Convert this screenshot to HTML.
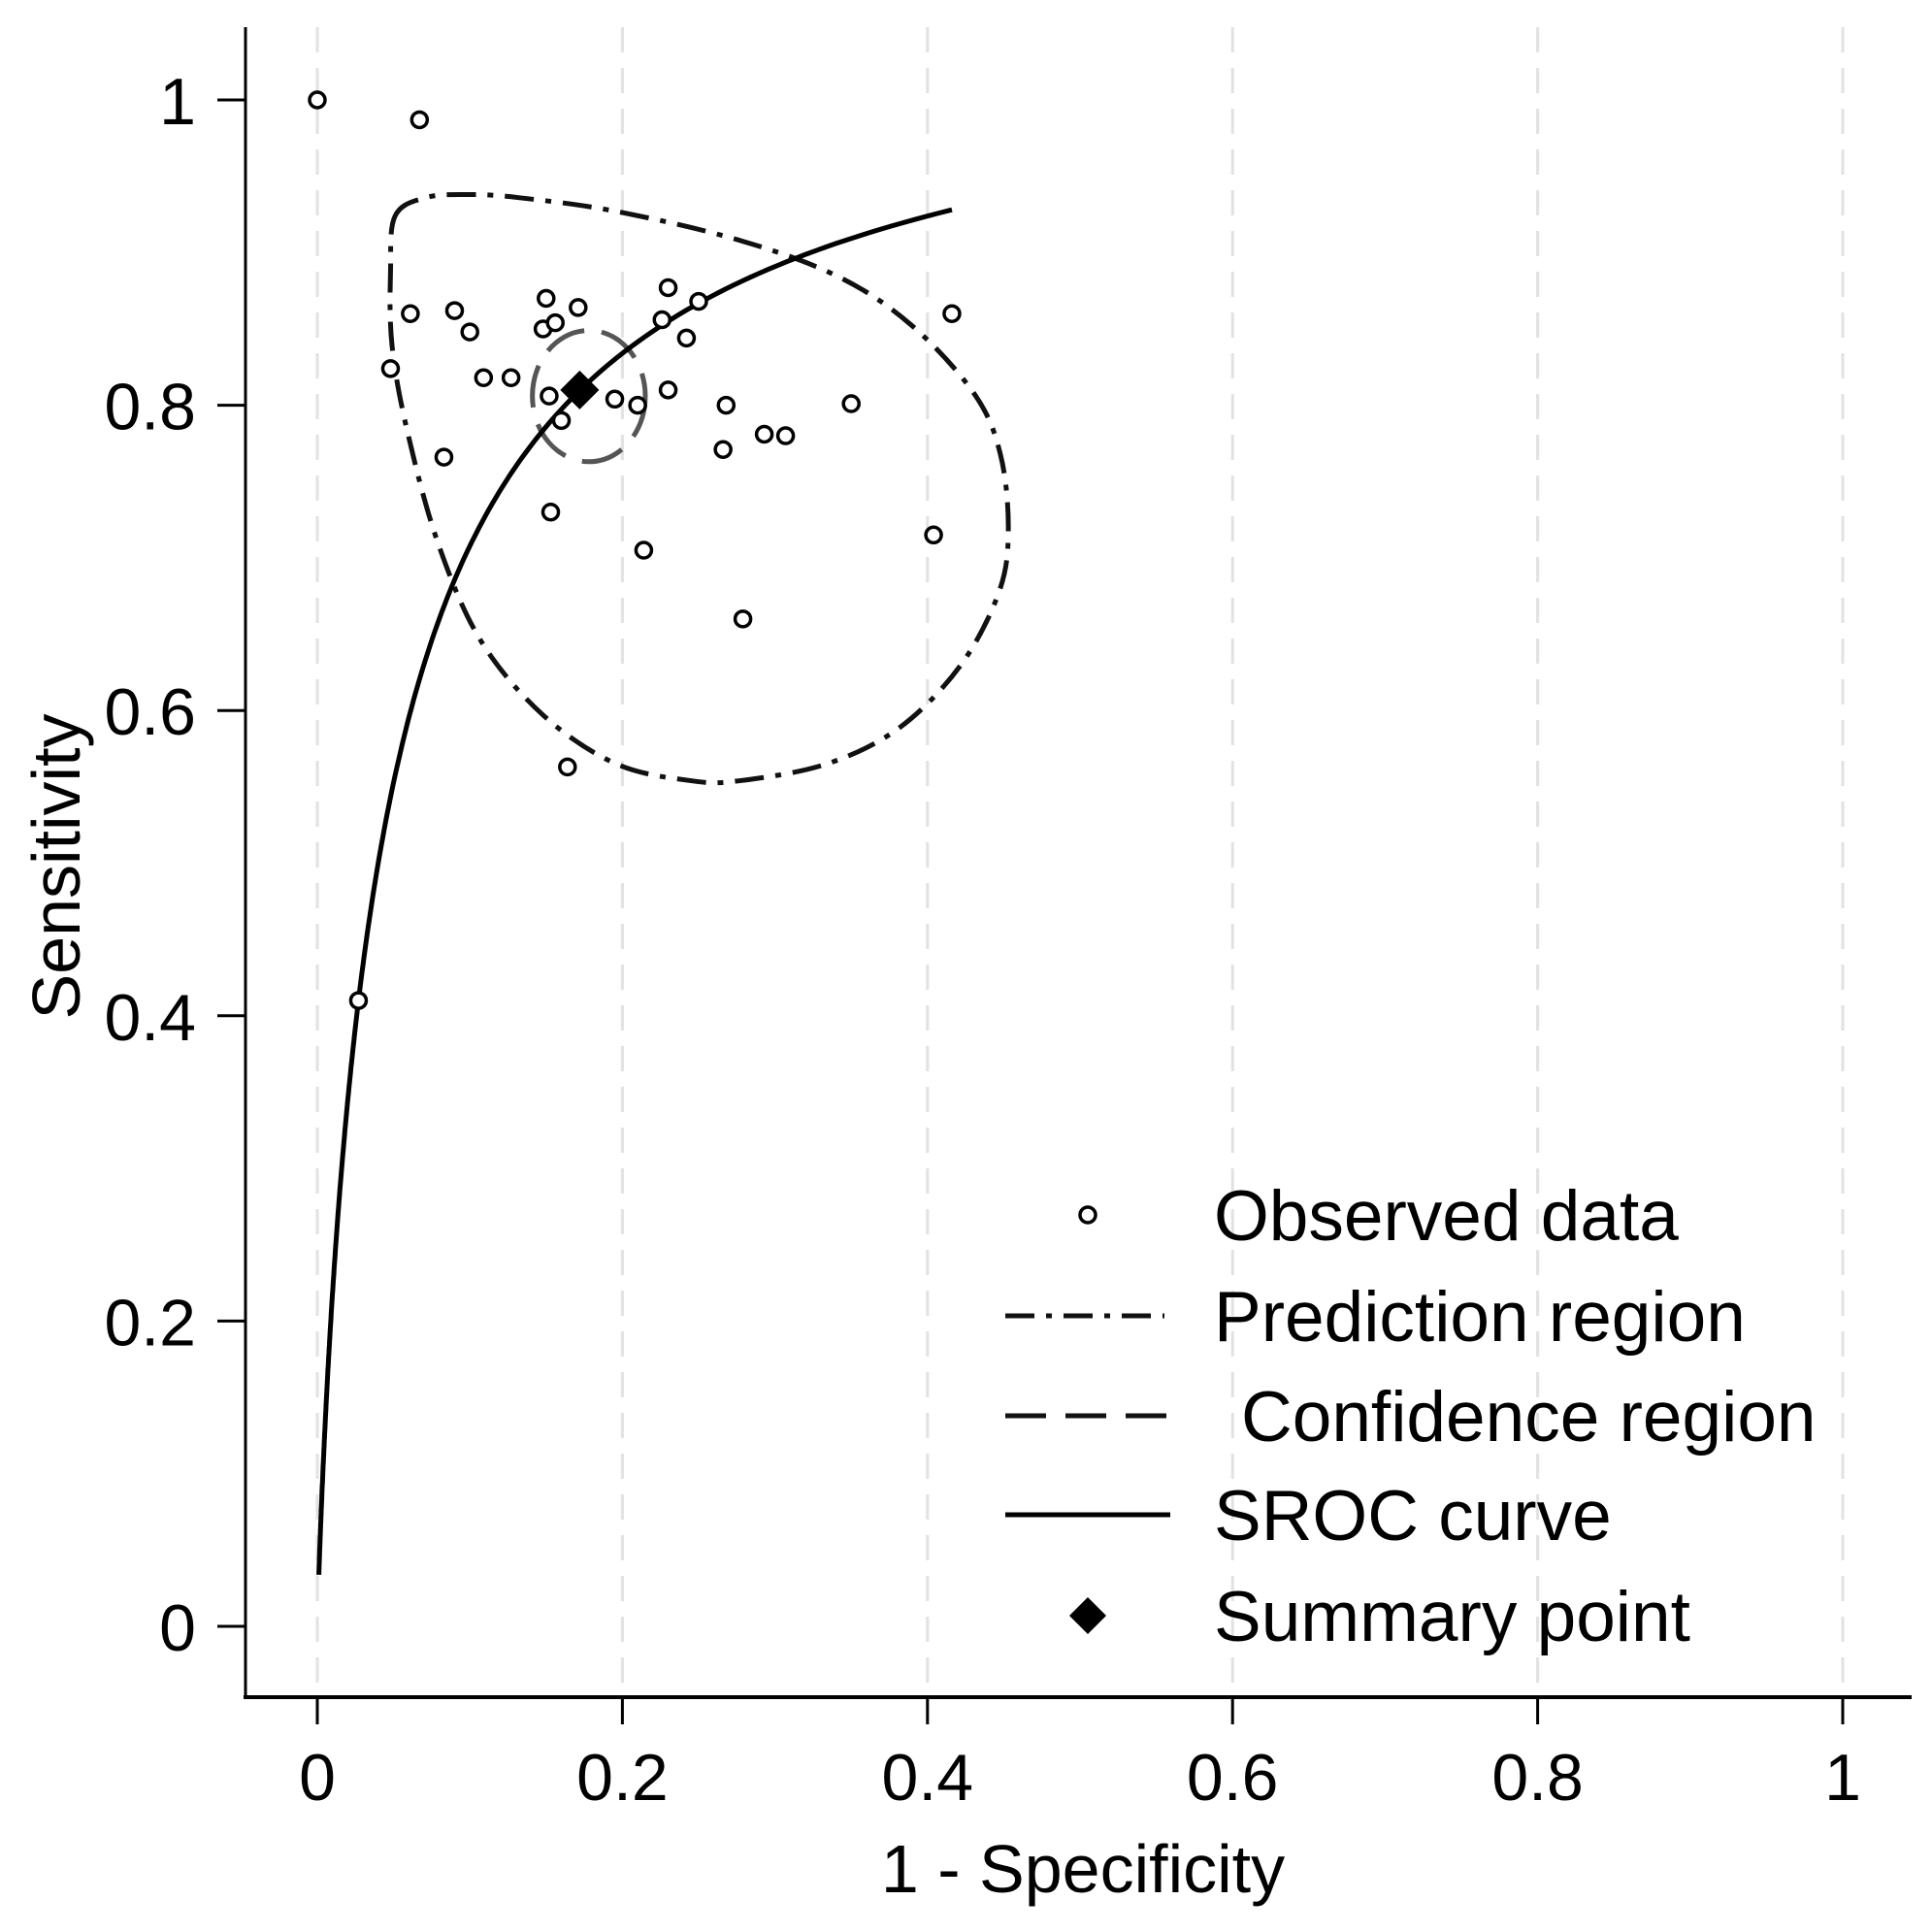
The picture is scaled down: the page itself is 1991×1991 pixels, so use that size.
<!DOCTYPE html>
<html><head><meta charset="utf-8"><style>
html,body{margin:0;padding:0;background:#fff;}
svg{display:block;font-family:"Liberation Sans",Arial,sans-serif;}
</style></head><body>
<svg id="chart" width="1991" height="1991" viewBox="0 0 1991 1991" xmlns="http://www.w3.org/2000/svg">
<g id="grid"></g>
<g id="axes"></g>
<g id="series"></g>
<g id="legend"></g>
</svg>
<script>
const xTicks = [0, 0.2, 0.4, 0.6, 0.8, 1];
const xTickLabels = ["0", "0.2", "0.4", "0.6", "0.8", "1"];
const yTicks = [0, 0.2, 0.4, 0.6, 0.8, 1];
const yTickLabels = ["0", "0.2", "0.4", "0.6", "0.8", "1"];
const obsFpr = [0,.067,.061,.090,.100,.048,.109,.127,.083,.150,.171,.148,.156,.152,.160,.153,.195,.210,.230,.250,.226,.242,.230,.268,.266,.293,.307,.214,.279,.164,.350,.404,.416,.027];
const obsSens = [1,.987,.860,.862,.848,.824,.818,.818,.766,.870,.864,.850,.854,.806,.790,.730,.804,.800,.877,.868,.856,.844,.810,.800,.771,.781,.780,.705,.660,.563,.801,.715,.860,.410];
const summaryPoint = [0.172, 0.810];
const srocParams = [2.862, 0.90]; // logit(sens) = a + b*logit(fpr)
const srocRange = [0.001, 0.416];
const confCenter = [0.178, 0.806];
const confRadii = [0.037, 0.043];
const predFpr = [.051,.071,.099,.132,.196,.277,.342,.390,.431,.448,.453,.447,.422,.382,.334,.277,.245,.196,.148,.107,.079,.059,.049,.048];
const predSens = [.924,.936,.938,.936,.927,.908,.884,.852,.807,.767,.718,.678,.630,.589,.565,.554,.554,.565,.597,.646,.710,.783,.839,.888];

const NS="http://www.w3.org/2000/svg";
const X0=327,X1=1899,Y0=1676,Y1=103;
const sx=v=>X0+(X1-X0)*v;
const sy=v=>Y0-(Y0-Y1)*v;
function mk(tag,attrs,parent){const e=document.createElementNS(NS,tag);for(const k in attrs)e.setAttribute(k,attrs[k]);parent.appendChild(e);return e;}
const grid=document.getElementById('grid'),axes=document.getElementById('axes'),series=document.getElementById('series'),legend=document.getElementById('legend');
const AXY=1749;
xTicks.forEach((t,i)=>{
  const g=mk('line',{x1:sx(t),x2:sx(t),y1:28,y2:AXY-2,stroke:'#e2e2e2','stroke-width':3,'stroke-dasharray':'26 16'},grid);
  
  
  const tk=mk('line',{x1:sx(t),x2:sx(t),y1:AXY,y2:AXY+28,stroke:'#000','stroke-width':3},axes);
  
  
  const tx=mk('text',{x:sx(t),y:1855,'text-anchor':'middle','font-size':68},axes);
  tx.textContent=xTickLabels[i];
  
  
});
yTicks.forEach((t,i)=>{
  const tk=mk('line',{x1:224,x2:253,y1:sy(t),y2:sy(t),stroke:'#000','stroke-width':3},axes);
  
  
  const tx=mk('text',{x:202,y:sy(t)+25,'text-anchor':'end','font-size':68},axes);
  tx.textContent=yTickLabels[i];
  
  
});
let a=mk('line',{x1:253,x2:253,y1:28,y2:AXY+2,stroke:'#000','stroke-width':3},axes);


a=mk('line',{x1:251,x2:1970,y1:AXY,y2:AXY,stroke:'#000','stroke-width':4},axes);


let t=mk('text',{x:1116,y:1950,'text-anchor':'middle','font-size':70},axes);
t.textContent='1 - Specificity';


t=mk('text',{x:0,y:0,'text-anchor':'middle','font-size':70,transform:'translate(82,893) rotate(-90)'},axes);
t.textContent='Sensitivity';



(function(){
  const P=predFpr.map((f,i)=>[sx(f),sy(predSens[i])]);const n=P.length;
  let d=`M${P[0][0]},${P[0][1]}`;
  for(let i=0;i<n;i++){const p0=P[(i-1+n)%n],p1=P[i],p2=P[(i+1)%n],p3=P[(i+2)%n];
    d+=` C${p1[0]+(p2[0]-p0[0])/6},${p1[1]+(p2[1]-p0[1])/6} ${p2[0]-(p3[0]-p1[0])/6},${p2[1]-(p3[1]-p1[1])/6} ${p2[0]},${p2[1]}`;}
  const p=mk('path',{d:d+'Z',fill:'none',stroke:'#111','stroke-width':5,'stroke-dasharray':'30 12 6 12'},series);
  
  
})();
a=mk('ellipse',{cx:sx(confCenter[0]),cy:sy(confCenter[1]),rx:(X1-X0)*confRadii[0],ry:(Y0-Y1)*confRadii[1],fill:'none',stroke:'#555','stroke-width':5,'stroke-dasharray':'44 18'},series);


(function(){
  const pts=[];const N=300;
  for(let i=0;i<=N;i++){const lf=Math.log(srocRange[0])+(Math.log(srocRange[1])-Math.log(srocRange[0]))*i/N;const f=Math.exp(lf);
    const L=srocParams[0]+srocParams[1]*Math.log(f/(1-f));const s=1/(1+Math.exp(-L));pts.push(sx(f).toFixed(1)+','+sy(s).toFixed(1));}
  const p=mk('polyline',{points:pts.join(' '),fill:'none',stroke:'#000','stroke-width':5},series);
  
  
})();
obsFpr.forEach((f,i)=>{
  const c=mk('circle',{cx:sx(f),cy:sy(obsSens[i]),r:8,fill:'#fff',stroke:'#000','stroke-width':3.5},series);
  
  
});
(function(){const cx=sx(summaryPoint[0]),cy=sy(summaryPoint[1]),r=20;
  const p=mk('polygon',{points:`${cx},${cy-r} ${cx+r},${cy} ${cx},${cy+r} ${cx-r},${cy}`,fill:'#000'},series);
  
  
})();

const LY=[1252,1356,1459,1561,1665];
const MX=1121;
let e=mk('circle',{cx:MX,cy:LY[0],r:8,fill:'#fff',stroke:'#000','stroke-width':3.5},legend);


e=mk('line',{x1:1036,x2:1200,y1:LY[1],y2:LY[1],stroke:'#111','stroke-width':5,'stroke-dasharray':'30 12 6 12'},legend);


e=mk('line',{x1:1036,x2:1206,y1:LY[2],y2:LY[2],stroke:'#111','stroke-width':5,'stroke-dasharray':'42 20'},legend);


e=mk('line',{x1:1036,x2:1206,y1:LY[3],y2:LY[3],stroke:'#000','stroke-width':5},legend);


e=mk('polygon',{points:`${MX},${LY[4]-19} ${MX+19},${LY[4]} ${MX},${LY[4]+19} ${MX-19},${LY[4]}`,fill:'#000'},legend);


const labels=['Observed data','Prediction region','Confidence region','SROC curve','Summary point'];
const names=['legend-observed-label','legend-prediction-label','legend-confidence-label','legend-sroc-label','legend-summary-label'];
labels.forEach((s,i)=>{
  const tx=mk('text',{x:i===2?1279:1251,y:LY[i]+26,'font-size':73},legend);
  tx.textContent=s;
  
  
});
</script>
</body></html>
